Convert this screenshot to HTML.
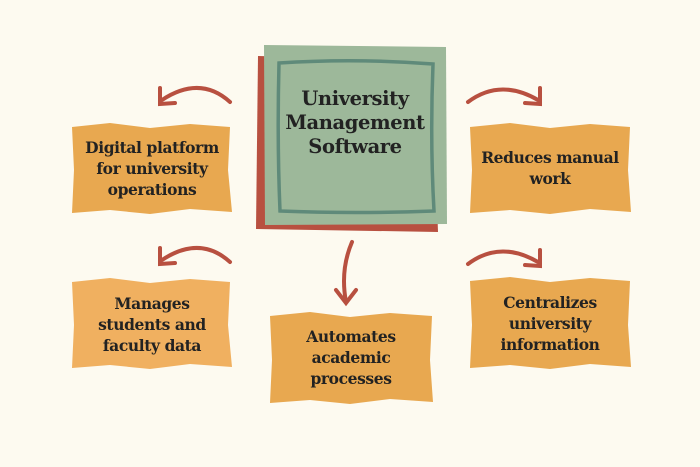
<!DOCTYPE html>
<html><head><style>
body{margin:0;width:700px;height:467px;background:#fdfaf0;position:relative;overflow:hidden;font-family:"DejaVu Serif","Liberation Serif",serif;font-weight:bold;color:#222;}
.b{position:absolute;display:flex;align-items:center;justify-content:center;text-align:center;font-size:15.5px;line-height:21px;letter-spacing:-0.4px;}
svg{position:absolute;left:0;top:0}
</style></head><body>
<svg width="700" height="467">
<path d="M258,56 L432,60 L438,232 L256,229 Z" fill="#b85040"/>
<path d="M264,45 L446,47 L447,224 L265,225 Z" fill="#9db89a"/>
<path d="M279,63 Q355,58 433,64 Q430,140 434,211 Q355,214 280,211 Q277,140 279,63 Z" fill="none" stroke="#5f8a7a" stroke-width="3.5"/>
<g fill="#e8a850">
<path d="M72,127 L110,123 L150,128 L190,124 L230,127 L228,170 L232,212 L190,209 L150,214 L110,210 L72,213 L74,170 Z"/>
<path d="M470,127 L510,123 L550,128 L590,124 L630,127 L628,170 L631,212 L590,209 L550,214 L510,210 L470,213 L472,170 Z"/>
<path d="M270,316 L310,312 L350,317 L390,313 L432,316 L430,360 L433,402 L390,399 L350,404 L310,400 L270,403 L272,360 Z"/>
<path d="M470,281 L510,277 L550,282 L590,278 L630,281 L628,325 L631,367 L590,364 L550,369 L510,365 L470,368 L472,325 Z"/>
</g>
<path d="M72,282 L110,278 L150,283 L190,279 L230,282 L228,325 L232,367 L190,364 L150,369 L110,365 L72,368 L74,325 Z" fill="#f0b060"/>
<g fill="none" stroke="#b85040" stroke-width="4" stroke-linecap="round">
<path d="M230,102 Q200,75 162,100"/><path d="M160,88 L160,104 L175,103"/>
<path d="M230,262 Q200,235 162,260"/><path d="M160,248 L160,264 L175,263"/>
<path d="M468,102 Q500,78 538,100"/><path d="M540,88 L540,104 L525,103"/>
<path d="M468,264 Q500,240 538,262"/><path d="M540,250 L540,266 L525,265"/>
<path d="M352,242 Q340,270 346,302"/><path d="M336,290 L346,303 L356,290"/>
</g>
</svg>
<div class="b" style="left:264px;top:78px;width:182px;height:90px;font-size:19.5px;line-height:24px;">University<br>Management<br>Software</div>
<div class="b" style="left:72px;top:125px;width:160px;height:86px;">Digital platform<br>for university<br>operations</div>
<div class="b" style="left:470px;top:125px;width:160px;height:86px;">Reduces manual<br>work</div>
<div class="b" style="left:72px;top:281px;width:160px;height:86px;">Manages<br>students and<br>faculty data</div>
<div class="b" style="left:270px;top:314px;width:162px;height:86px;">Automates<br>academic<br>processes</div>
<div class="b" style="left:470px;top:280px;width:160px;height:86px;">Centralizes<br>university<br>information</div>
</body></html>
